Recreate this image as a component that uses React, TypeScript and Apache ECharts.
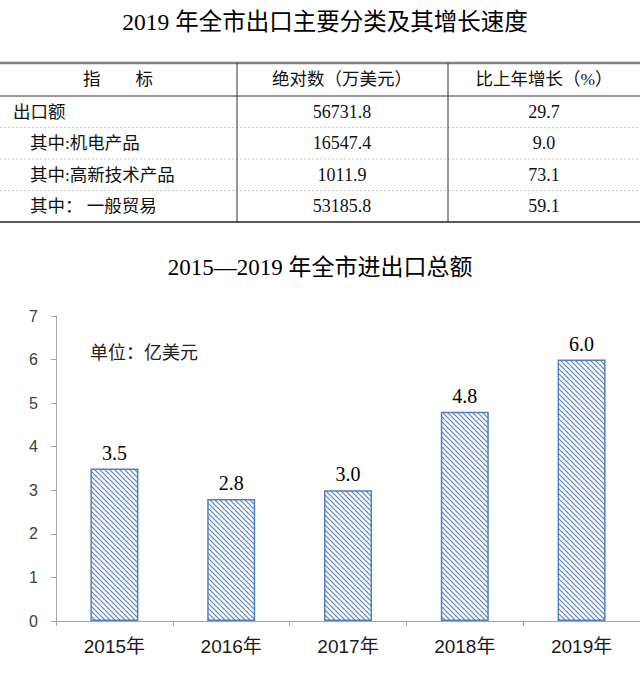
import React, { useEffect, useRef } from "react";
import * as echarts from "echarts";

const tableTitle = "2019 年全市出口主要分类及其增长速度";
const headers = ["指　　标", "绝对数（万美元）", "比上年增长（%）"];
const rowNames = ["出口额", "其中:机电产品", "其中:高新技术产品", "其中： 一般贸易"];
const absValues = ["56731.8", "16547.4", "1011.9", "53185.8"];
const growthValues = ["29.7", "9.0", "73.1", "59.1"];

const chartTitle = "2015—2019 年全市进出口总额";
const unitNote = "单位：亿美元";
const years = ["2015年", "2016年", "2017年", "2018年", "2019年"];
const totals = [3.5, 2.8, 3.0, 4.8, 6.0];

const SERIF = '"Liberation Serif", "Times New Roman", "Noto Sans CJK SC", serif';
const SANS = '"Liberation Sans", "Noto Sans", "Noto Sans CJK SC", sans-serif';

function makeHatch(): HTMLCanvasElement {
  const c = document.createElement("canvas");
  c.width = 10;
  c.height = 10;
  const ctx = c.getContext("2d")!;
  ctx.fillStyle = "#ffffff";
  ctx.fillRect(0, 0, 10, 10);
  ctx.strokeStyle = "#5a82c0";
  ctx.lineWidth = 1.2;
  for (let k = -10; k <= 20; k += 5) {
    ctx.beginPath();
    ctx.moveTo(k, 0);
    ctx.lineTo(k + 10, 10);
    ctx.stroke();
  }
  return c;
}

export default function App() {
  const ref = useRef<HTMLDivElement>(null);
  useEffect(() => {
    if (!ref.current) return;
    const chart = echarts.init(ref.current, undefined, { renderer: "svg" });

    const rowTop = 96;
    const rowH = 31.5;
    const colX = [0, 237, 448, 640];
    const colCenters = [118, 342, 544];
    const graphics: any[] = [];

    graphics.push({
      type: "text",
      x: 325,
      y: 22,
      style: { text: tableTitle, font: `23.5px ${SERIF}`, fill: "#000", align: "center", verticalAlign: "middle" },
    });
    graphics.push({ type: "line", shape: { x1: 0, y1: 63, x2: 640, y2: 63 }, style: { stroke: "#7f7f7f", lineWidth: 2.5 } });
    graphics.push({ type: "line", shape: { x1: 0, y1: rowTop, x2: 640, y2: rowTop }, style: { stroke: "#333", lineWidth: 1 } });
    for (let i = 1; i < rowNames.length; i++) {
      const y = rowTop + rowH * i;
      graphics.push({ type: "line", shape: { x1: 0, y1: y, x2: 640, y2: y }, style: { stroke: "#c8c8c8", lineWidth: 1, lineDash: [2, 2] } });
    }
    const bottomY = rowTop + rowH * rowNames.length;
    graphics.push({ type: "line", shape: { x1: 0, y1: bottomY, x2: 640, y2: bottomY }, style: { stroke: "#222", lineWidth: 1.5 } });
    [colX[1], colX[2]].forEach((x) => {
      graphics.push({ type: "line", shape: { x1: x, y1: 63, x2: x, y2: bottomY }, style: { stroke: "#333", lineWidth: 1 } });
    });
    headers.forEach((h, i) => {
      graphics.push({
        type: "text",
        x: colCenters[i],
        y: 79,
        style: { text: h, font: `17.5px ${SERIF}`, fill: "#111", align: "center", verticalAlign: "middle" },
      });
    });
    rowNames.forEach((name, i) => {
      const cy = rowTop + rowH * i + rowH / 2;
      graphics.push({
        type: "text",
        x: i === 0 ? 13 : 30,
        y: cy,
        style: { text: name, font: `17.5px ${SERIF}`, fill: "#111", align: "left", verticalAlign: "middle" },
      });
      graphics.push({
        type: "text",
        x: colCenters[1],
        y: cy,
        style: { text: absValues[i], font: `18px ${SERIF}`, fill: "#111", align: "center", verticalAlign: "middle" },
      });
      graphics.push({
        type: "text",
        x: colCenters[2],
        y: cy,
        style: { text: growthValues[i], font: `18px ${SERIF}`, fill: "#111", align: "center", verticalAlign: "middle" },
      });
    });
    graphics.push({
      type: "text",
      x: 320,
      y: 267,
      style: { text: chartTitle, font: `23px ${SERIF}`, fill: "#000", align: "center", verticalAlign: "middle" },
    });
    graphics.push({
      type: "text",
      x: 90,
      y: 353,
      style: { text: unitNote, font: `18px ${SANS}`, fill: "#222", align: "left", verticalAlign: "middle" },
    });

    const hatch = makeHatch();

    chart.setOption({
      animation: false,
      backgroundColor: "#ffffff",
      grid: { left: 56, right: -7, top: 316, bottom: 54, containLabel: false },
      xAxis: {
        type: "category",
        data: years,
        axisLine: { show: true, lineStyle: { color: "#a6a6a6", width: 1 } },
        axisTick: { show: true, alignWithLabel: false, length: 5, lineStyle: { color: "#a6a6a6" } },
        axisLabel: { color: "#1a1a1a", fontSize: 19, fontFamily: SANS, margin: 16 },
      },
      yAxis: {
        type: "value",
        min: 0,
        max: 7,
        interval: 1,
        splitLine: { show: false },
        axisLine: { show: true, lineStyle: { color: "#a6a6a6", width: 1 } },
        axisTick: { show: true, length: 5, lineStyle: { color: "#a6a6a6" } },
        axisLabel: { color: "#404040", fontSize: 16, fontFamily: SANS, margin: 18 },
      },
      series: [
        {
          type: "bar",
          data: totals,
          barWidth: 48,
          itemStyle: {
            color: { image: hatch, repeat: "repeat" } as any,
            borderColor: "#4f7fbf",
            borderWidth: 1.5,
          },
          label: {
            show: true,
            position: "top",
            distance: 6,
            formatter: (p: any) => Number(p.value).toFixed(1),
            fontSize: 20,
            fontFamily: SERIF,
            color: "#000",
          },
        },
      ],
      graphic: graphics,
    });
    return () => chart.dispose();
  }, []);
  return <div ref={ref} style={{ position: "absolute", left: 0, top: 0, width: 640, height: 675 }} />;
}
